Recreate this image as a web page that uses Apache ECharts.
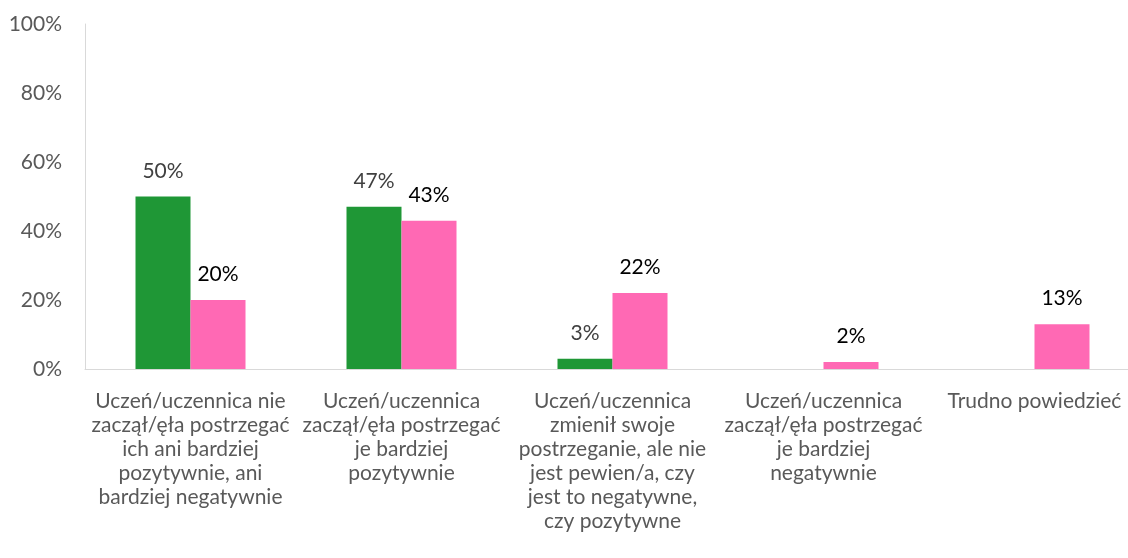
<!DOCTYPE html>
<html>
<head>
<meta charset="utf-8">
<script src="https://cdn.jsdelivr.net/npm/echarts@6/dist/echarts.min.js"></script>
<style>
html,body{margin:0;padding:0;background:#fff;overflow:hidden;width:1128px;height:558px;}
#chart{width:1140px;height:558px;}
</style>
</head>
<body>
<div id="chart"></div>
<script>
const categories = [
  "Uczeń/uczennica nie\nzaczął/ęła postrzegać\nich ani bardziej\npozytywnie, ani\nbardziej negatywnie",
  "Uczeń/uczennica\nzaczął/ęła postrzegać\nje bardziej\npozytywnie",
  "Uczeń/uczennica\nzmienił swoje\npostrzeganie, ale nie\njest pewien/a, czy\njest to negatywne,\nczy pozytywne",
  "Uczeń/uczennica\nzaczął/ęła postrzegać\nje bardziej\nnegatywnie",
  "Trudno powiedzieć"
];
const greenValues = [50, 47, 3, null, null];
const pinkValues = [20, 43, 22, 2, 13];
const yTicks = [0, 20, 40, 60, 80, 100];

const FONT = "Lato";
const FS = 21;
const chart = echarts.init(document.getElementById('chart'), null, {renderer: 'canvas'});
chart.setOption({
  animation: false,
  grid: {left: 85, top: 24, right: 0, height: 345, containLabel: false},
  xAxis: {
    type: 'category',
    data: categories,
    axisLine: {show: true, lineStyle: {color: '#d9d9d9', width: 1}},
    axisTick: {show: false},
    axisLabel: {
      interval: 0,
      margin: 20,
      color: '#595959',
      fontFamily: FONT,
      fontSize: FS,
      lineHeight: 24,
      align: 'center'
    }
  },
  yAxis: {
    type: 'value',
    min: yTicks[0],
    max: yTicks[yTicks.length - 1],
    interval: 20,
    axisLine: {show: true, lineStyle: {color: '#d9d9d9', width: 1}},
    axisTick: {show: false},
    splitLine: {show: false},
    axisLabel: {
      margin: 23,
      color: '#595959',
      fontFamily: FONT,
      fontSize: FS,
      formatter: v => v + '%'
    }
  },
  series: [
    {
      name: 'A',
      type: 'bar',
      data: greenValues,
      barWidth: 55,
      barGap: '0%',
      itemStyle: {color: '#1f9736'},
      label: {
        show: true, position: 'top', distance: 15,
        color: '#404040', fontFamily: FONT, fontSize: FS,
        formatter: p => p.value + '%'
      }
    },
    {
      name: 'B',
      type: 'bar',
      data: pinkValues,
      barWidth: 55,
      barGap: '0%',
      itemStyle: {color: '#ff69b4'},
      label: {
        show: true, position: 'top', distance: 15,
        color: '#000000', fontFamily: FONT, fontSize: FS,
        formatter: p => p.value + '%'
      }
    }
  ]
});
</script>
</body>
</html>
